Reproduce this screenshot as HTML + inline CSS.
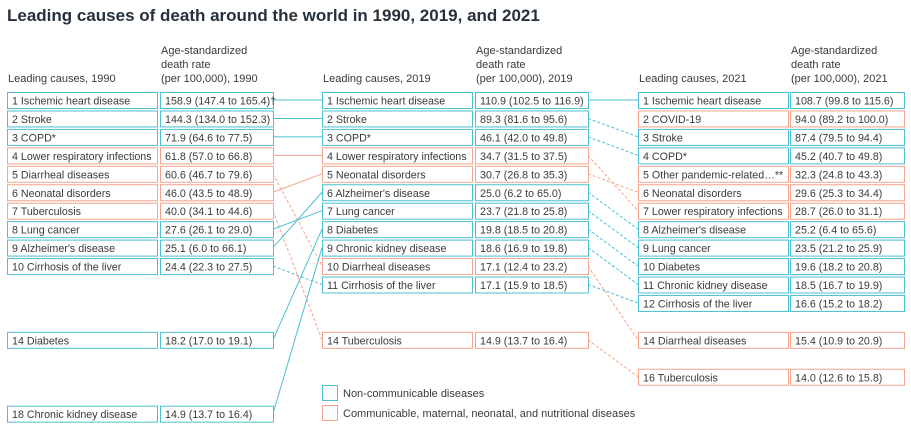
<!DOCTYPE html>
<html><head><meta charset="utf-8"><style>
body{margin:0;background:#fff;width:911px;height:431px;overflow:hidden;font-family:"Liberation Sans",sans-serif}
svg{display:block}
</style></head><body>
<svg id="c" width="911" height="431" xmlns="http://www.w3.org/2000/svg">
<text x="7" y="21" font-size="17" font-weight="bold" fill="#27313b">Leading causes of death around the world in 1990, 2019, and 2021</text>
</svg>
<script>
const years=["1990","2019","2021"];
const causes1990=["Ischemic heart disease","Stroke","COPD*","Lower respiratory infections","Diarrheal diseases","Neonatal disorders","Tuberculosis","Lung cancer","Alzheimer's disease","Cirrhosis of the liver","Diabetes","Chronic kidney disease"];
const ranks1990=[1,2,3,4,5,6,7,8,9,10,14,18];
const rates1990=["158.9 (147.4 to 165.4)†","144.3 (134.0 to 152.3)","71.9 (64.6 to 77.5)","61.8 (57.0 to 66.8)","60.6 (46.7 to 79.6)","46.0 (43.5 to 48.9)","40.0 (34.1 to 44.6)","27.6 (26.1 to 29.0)","25.1 (6.0 to 66.1)","24.4 (22.3 to 27.5)","18.2 (17.0 to 19.1)","14.9 (13.7 to 16.4)"];
const causes2019=["Ischemic heart disease","Stroke","COPD*","Lower respiratory infections","Neonatal disorders","Alzheimer's disease","Lung cancer","Diabetes","Chronic kidney disease","Diarrheal diseases","Cirrhosis of the liver","Tuberculosis"];
const ranks2019=[1,2,3,4,5,6,7,8,9,10,11,14];
const rates2019=["110.9 (102.5 to 116.9)","89.3 (81.6 to 95.6)","46.1 (42.0 to 49.8)","34.7 (31.5 to 37.5)","30.7 (26.8 to 35.3)","25.0 (6.2 to 65.0)","23.7 (21.8 to 25.8)","19.8 (18.5 to 20.8)","18.6 (16.9 to 19.8)","17.1 (12.4 to 23.2)","17.1 (15.9 to 18.5)","14.9 (13.7 to 16.4)"];
const causes2021=["Ischemic heart disease","COVID-19","Stroke","COPD*","Other pandemic-related…**","Neonatal disorders","Lower respiratory infections","Alzheimer's disease","Lung cancer","Diabetes","Chronic kidney disease","Cirrhosis of the liver","Diarrheal diseases","Tuberculosis"];
const ranks2021=[1,2,3,4,5,6,7,8,9,10,11,12,14,16];
const rates2021=["108.7 (99.8 to 115.6)","94.0 (89.2 to 100.0)","87.4 (79.5 to 94.4)","45.2 (40.7 to 49.8)","32.3 (24.8 to 43.3)","29.6 (25.3 to 34.4)","28.7 (26.0 to 31.1)","25.2 (6.4 to 65.6)","23.5 (21.2 to 25.9)","19.6 (18.2 to 20.8)","18.5 (16.7 to 19.9)","16.6 (15.2 to 18.2)","15.4 (10.9 to 20.9)","14.0 (12.6 to 15.8)"];
const communicable=["Lower respiratory infections","Diarrheal diseases","Neonatal disorders","Tuberculosis","COVID-19","Other pandemic-related…**"];

const NS="http://www.w3.org/2000/svg";
const svg=document.getElementById('c');
const TEAL="#4dbfd2",SAL="#f4a38c",TXT="#3a3a3a";
const FS=10.7;
const cols=[{nx:7,nw:150,vx:160,vw:113},{nx:322,nw:150,vx:475,vw:113},{nx:638,nw:150,vx:790,vw:114}];
function yTop(r){return 92+(r-1)*18.45;}
function yMid(r){return yTop(r)+8;}
function el(t,a){const e=document.createElementNS(NS,t);for(const k in a)e.setAttribute(k,a[k]);svg.appendChild(e);return e;}
function col(c){return communicable.includes(c)?SAL:TEAL;}
function link(c1,r1,c2s,r2s,x1,x2){
  c1.forEach((c,i)=>{const j=c2s.indexOf(c);if(j<0)return;
    const a=r1[i],b=r2s[j];
    const l=el('line',{x1:x1,y1:yMid(a),x2:x2,y2:yMid(b),stroke:col(c),'stroke-width':1});
    if(b>a)l.setAttribute('stroke-dasharray','3,2');
    
    
  });
}
link(causes1990,ranks1990,causes2019,ranks2019,273,322);
link(causes2019,ranks2019,causes2021,ranks2021,588,638);
function drawCol(k,causes,ranks,rates){
  const c=cols[k];
  const h1=el('text',{x:c.nx+1,y:82,'font-size':11,fill:TXT});h1.textContent='Leading causes, '+years[k];
  
  
  ['Age-standardized','death rate','(per 100,000), '+years[k]].forEach((s,i)=>{
    const t=el('text',{x:c.vx+1,y:54+i*14,'font-size':11,fill:TXT});t.textContent=s;
    
    
  });
  causes.forEach((cs,i)=>{
    const r=ranks[i],y=yTop(r),clr=col(cs);
    const b1=el('rect',{x:c.nx+0.5,y:y+0.5,width:c.nw,height:16,fill:'#fff',stroke:clr,'stroke-width':1});
    
    
    const b2=el('rect',{x:c.vx+0.5,y:y+0.5,width:c.vw,height:16,fill:'#fff',stroke:clr,'stroke-width':1});
    
    
    const t1=el('text',{x:c.nx+5,y:y+12.5,'font-size':FS,fill:TXT});t1.textContent=r+' '+cs;
    
    
    const t2=el('text',{x:c.vx+5,y:y+12.5,'font-size':FS,fill:TXT});t2.textContent=rates[i];
    
    
  });
}
drawCol(0,causes1990,ranks1990,rates1990);
drawCol(1,causes2019,ranks2019,rates2019);
drawCol(2,causes2021,ranks2021,rates2021);
[[TEAL,'Non-communicable diseases',385],[SAL,'Communicable, maternal, neonatal, and nutritional diseases',405]].forEach(([c,s,y])=>{
  const r=el('rect',{x:322.5,y:y+0.5,width:15,height:15,fill:'#fff',stroke:c,'stroke-width':1});
  
  
  const t=el('text',{x:343,y:y+12,'font-size':11,fill:TXT});t.textContent=s;
  
  
});
</script>
</body></html>
